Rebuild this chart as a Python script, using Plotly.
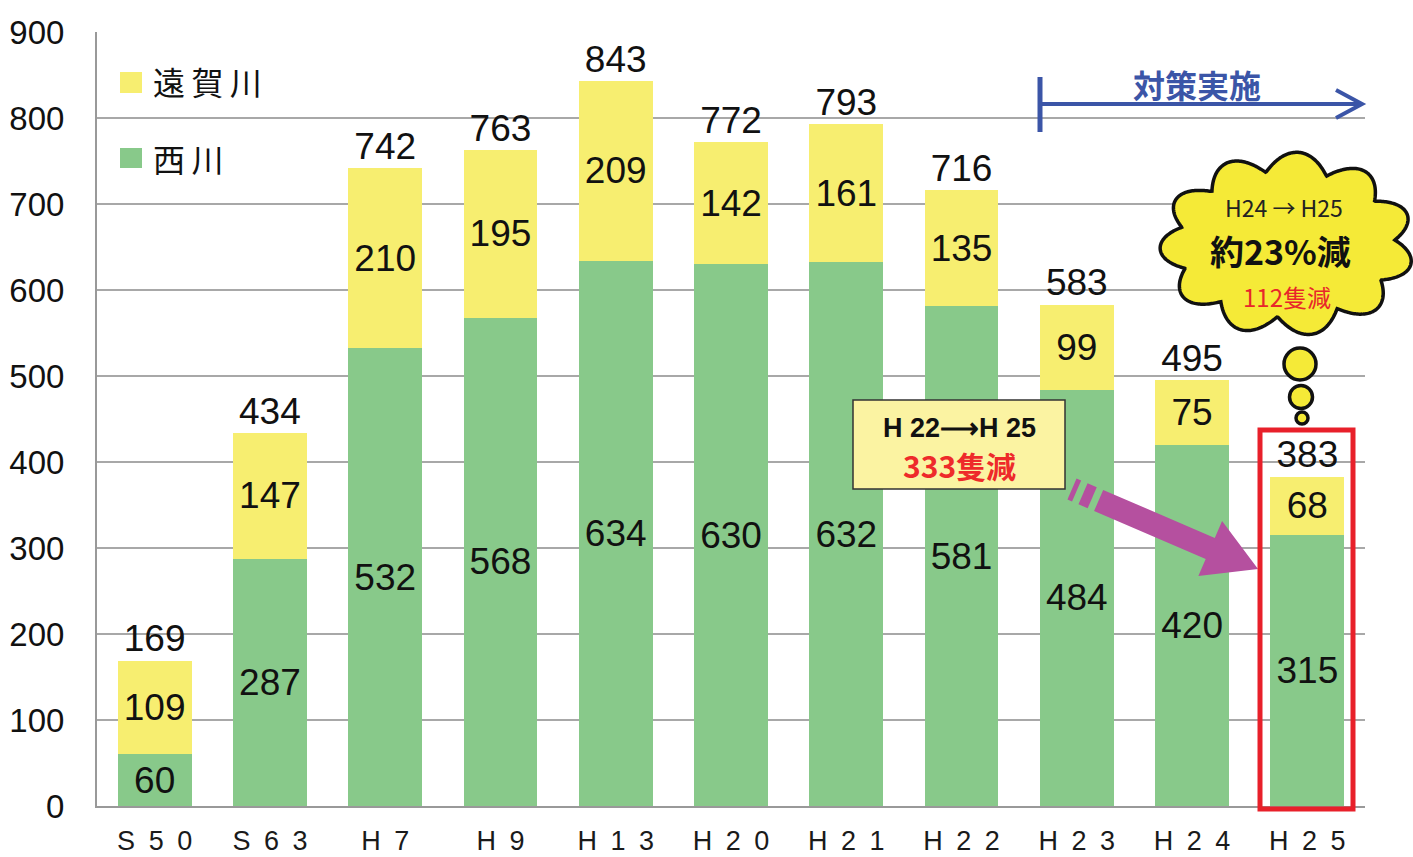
import numpy as np
import plotly.graph_objects as go

# ---------------- data ----------------
categories = ["S50", "S63", "H7", "H9", "H13", "H20", "H21", "H22", "H23", "H24", "H25"]
tick_labels = ["S\u20025\u20020", "S\u20026\u20023", "H\u20027", "H\u20029", "H\u20021\u20023",
               "H\u20022\u20020", "H\u20022\u20021", "H\u20022\u20022", "H\u20022\u20023",
               "H\u20022\u20024", "H\u20022\u20025"]
nishikawa = [60, 287, 532, 568, 634, 630, 632, 581, 484, 420, 315]   # 西川 (green)
ongagawa = [109, 147, 210, 195, 209, 142, 161, 135, 99, 75, 68]      # 遠賀川 (yellow)
totals = [169, 434, 742, 763, 843, 772, 793, 716, 583, 495, 383]

W, H = 1413, 857
L, R, T, B = 97, 48, 32, 51
PW, PH = W - L - R, H - T - B


def px(x):
    return (x - L) / PW


def py(y):
    return (H - B - y) / PH


GREEN = "#88c98a"
YELLOW = "#f7ee70"
NUMFONT = "Liberation Sans, Arial, sans-serif"
VALFONT = "Liberation Sans, Arial, sans-serif"
CJK = "Noto Sans CJK JP, sans-serif"

fig = go.Figure()
fig.add_trace(go.Bar(
    x=categories, y=nishikawa, name="西川", marker=dict(color=GREEN, line=dict(width=0)),
    text=[str(v) for v in nishikawa], textposition="inside", insidetextanchor="middle",
    textangle=0, textfont=dict(family=VALFONT, size=37, color="#111"), showlegend=False))
fig.add_trace(go.Bar(
    x=categories, y=ongagawa, name="遠賀川", marker=dict(color=YELLOW, line=dict(width=0)),
    text=[str(v) for v in ongagawa], textposition="inside", insidetextanchor="middle",
    textangle=0, textfont=dict(family=VALFONT, size=37, color="#111"), showlegend=False))
fig.add_trace(go.Scatter(
    x=categories, y=totals, mode="text", text=[str(v) for v in totals],
    textposition="top center", textfont=dict(family=VALFONT, size=37, color="#111"),
    showlegend=False, hoverinfo="skip", cliponaxis=False))

shapes = []
annotations = []

# ---- manual legend ----
shapes.append(dict(type="rect", xref="paper", yref="paper", x0=px(120), x1=px(142), y0=py(93), y1=py(72),
                   fillcolor=YELLOW, line=dict(width=0)))
shapes.append(dict(type="rect", xref="paper", yref="paper", x0=px(120), x1=px(142), y0=py(168), y1=py(148),
                   fillcolor=GREEN, line=dict(width=0)))
annotations.append(dict(xref="paper", yref="paper", x=px(151), y=py(81), text="遠\u2009賀\u2009川",
                        showarrow=False, xanchor="left", yanchor="middle",
                        font=dict(family=CJK, size=32, color="#111")))
annotations.append(dict(xref="paper", yref="paper", x=px(151), y=py(158), text="西\u2009川",
                        showarrow=False, xanchor="left", yanchor="middle",
                        font=dict(family=CJK, size=32, color="#111")))

# ---- 対策実施 arrow ----
BLUE = "#3b55a7"
shapes.append(dict(type="line", xref="paper", yref="paper", x0=px(1040), x1=px(1040), y0=py(77), y1=py(132),
                   line=dict(color=BLUE, width=5)))
shapes.append(dict(type="line", xref="paper", yref="paper", x0=px(1040), x1=px(1361), y0=py(104), y1=py(104),
                   line=dict(color=BLUE, width=4)))
shapes.append(dict(type="path", xref="paper", yref="paper",
                   path=f"M {px(1336)},{py(90)} L {px(1362)},{py(104)} L {px(1336)},{py(118)}",
                   line=dict(color=BLUE, width=4)))
annotations.append(dict(xref="paper", yref="paper", x=px(1197), y=py(84), text="<b>対策実施</b>",
                        showarrow=False, xanchor="center", yanchor="middle",
                        font=dict(family=CJK, size=32, color=BLUE)))

# ---- cloud ----
t = np.linspace(0, 2 * np.pi, 700)
k = 5.5
bump = 19 * np.abs(np.sin(k * t + 0.3))
cx, cy = 1287, 244
xs = cx + (108 + bump) * np.cos(t)
ys = cy + (73 + bump) * np.sin(t)
cloud_path = "M " + " L ".join(f"{px(a):.5f},{py(b):.5f}" for a, b in zip(xs, ys)) + " Z"
shapes.append(dict(type="path", xref="paper", yref="paper", path=cloud_path,
                   fillcolor="#f5ea37", line=dict(color="#111", width=3.5)))
for (ccx, ccy, r) in [(1300, 364, 16), (1301, 397, 11.5), (1302, 418, 6)]:
    shapes.append(dict(type="circle", xref="paper", yref="paper", x0=px(ccx - r), x1=px(ccx + r),
                       y0=py(ccy + r), y1=py(ccy - r), fillcolor="#f5ea37", line=dict(color="#111", width=3.5)))
annotations.append(dict(xref="paper", yref="paper", x=px(1284), y=py(207), text="H24 \u2192 H25",
                        showarrow=False, xanchor="center", yanchor="middle",
                        font=dict(family=CJK, size=23, color="#222")))
annotations.append(dict(xref="paper", yref="paper", x=px(1280), y=py(251), text="<b>約23%減</b>",
                        showarrow=False, xanchor="center", yanchor="middle",
                        font=dict(family=CJK, size=34, color="#111")))
annotations.append(dict(xref="paper", yref="paper", x=px(1287), y=py(296), text="112隻減",
                        showarrow=False, xanchor="center", yanchor="middle",
                        font=dict(family=CJK, size=24, color="#e8262a")))

# ---- H22 -> H25 box ----
shapes.append(dict(type="rect", xref="paper", yref="paper", x0=px(853), x1=px(1065), y0=py(489), y1=py(400),
                   fillcolor="#fbf3a2", line=dict(color="#333", width=1.5)))
annotations.append(dict(xref="paper", yref="paper", x=px(959), y=py(428), text="<b>H 22\u27f6H 25</b>",
                        showarrow=False, xanchor="center", yanchor="middle",
                        font=dict(family=VALFONT, size=27, color="#111")))
annotations.append(dict(xref="paper", yref="paper", x=px(959), y=py(465), text="<b>333隻減</b>",
                        showarrow=False, xanchor="center", yanchor="middle",
                        font=dict(family=CJK, size=30, color="#ee2a2a")))

# ---- magenta arrow ----
MAG = "#b5509f"
p0 = np.array([1072.0, 489.0])
tip = np.array([1258.0, 569.0])
d = tip - p0
length = np.linalg.norm(d)
u = d / length
n = np.array([-u[1], u[0]])


def P(s, w):
    q = p0 + u * s + n * w
    return f"{px(q[0]):.5f},{py(q[1]):.5f}"


hw, headw, headl = 11.5, 30, 52
for (s0, s1) in [(0, 5), (12, 22)]:
    shapes.append(dict(type="path", xref="paper", yref="paper",
                       path=f"M {P(s0, -hw)} L {P(s1, -hw)} L {P(s1, hw)} L {P(s0, hw)} Z",
                       fillcolor=MAG, line=dict(width=0)))
sb = length - headl
arrow_path = (f"M {P(29, -hw)} L {P(sb, -hw)} L {P(sb, -headw)} L {P(length, 0)} "
              f"L {P(sb, headw)} L {P(sb, hw)} L {P(29, hw)} Z")
shapes.append(dict(type="path", xref="paper", yref="paper", path=arrow_path,
                   fillcolor=MAG, line=dict(width=0)))

# ---- red highlight rectangle ----
shapes.append(dict(type="rect", xref="paper", yref="paper", x0=px(1260), x1=px(1353), y0=py(809), y1=py(430),
                   fillcolor="rgba(0,0,0,0)", line=dict(color="#e8202a", width=5)))

fig.update_layout(
    width=W, height=H,
    margin=dict(l=L, r=R, t=T, b=B, autoexpand=False),
    paper_bgcolor="white", plot_bgcolor="white",
    barmode="stack", bargap=0.36,
    shapes=shapes, annotations=annotations,
    showlegend=False,
    xaxis=dict(type="category", categoryorder="array", categoryarray=categories,
               tickmode="array", tickvals=categories, ticktext=tick_labels,
               showline=True, linecolor="#999", linewidth=2, ticks="", showgrid=False,
               tickfont=dict(family=NUMFONT, size=27, color="#1a1a1a"), ticklabelstandoff=10,
               range=[-0.5, 10.5], automargin=False),
    yaxis=dict(range=[0, 900], dtick=100, tick0=0, showgrid=True, gridcolor="#a8a8a8", gridwidth=1.5,
               showline=True, linecolor="#999", linewidth=2, ticks="", zeroline=False,
               tickfont=dict(family=NUMFONT, size=33, color="#111"), ticklabelstandoff=24,
               automargin=False),
)

fig.write_html("out.html")
